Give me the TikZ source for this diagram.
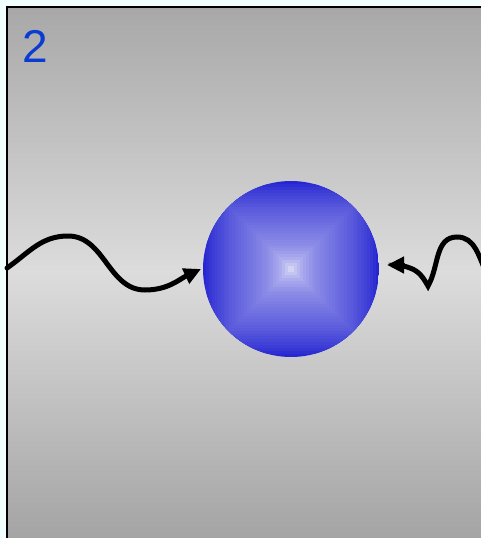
\documentclass[tikz,border=0pt]{standalone}
\usepackage{fontspec}
\setmainfont{Liberation Sans}
\usetikzlibrary{arrows.meta, calc}
\definecolor{cpaper}{HTML}{F2FFFF}
\definecolor{cgreytop}{HTML}{A8A8A8}
\definecolor{cgreymid}{HTML}{DCDCDC}
\definecolor{cgreybot}{HTML}{A4A4A4}
\definecolor{cballout}{HTML}{1E1ED0}
\definecolor{cballin}{HTML}{DCDCF8}
\definecolor{clabel}{HTML}{0A3CD2}
\tikzset{
  every picture/.style={x=1pt, y=-1pt},
  frame/.style={draw=black, line width=2pt},
  wave/.style={line width=5pt, line cap=round, -{Triangle[length=17pt, width=16pt]}},
  panel/.style={font=\fontsize{46}{46}\selectfont, text=clabel, inner sep=0pt},
}
\begin{document}
\begin{tikzpicture}
  \useasboundingbox (0,0) rectangle (481,538);
  \fill[cpaper] (0,0) rectangle (481,538);
  % grey panel
  \shade[top color=cgreytop, bottom color=cgreybot, middle color=cgreymid] (7,7) rectangle (481,538);
  \draw[frame] (7,538) -- (7,7) -- (481,7);
  \node[panel, anchor=base west] (num) at (22,62) {2};
  % ball with square bands
  \node[circle, minimum size=176pt, inner sep=0pt] (ball) at (291,269) {};
  \begin{scope}
    \clip (ball.center) circle (88);
    \foreach \k in {0,...,29} {
      \pgfmathsetmacro\s{88*(1-\k/30)}
      \pgfmathsetmacro\f{100*(0.7*((\k+0.5)/30)^0.7+0.3*((\k+0.5)/30)^8)}
      \fill[cballin!\f!cballout] ($(ball.center)+(-\s,-\s)$) rectangle ($(ball.center)+(\s,\s)$);
    }
  \end{scope}
  % incoming waves
  \coordinate (lstart) at (7,268);
  \coordinate (rstart) at (486,272);
  \coordinate (ltip) at (201,269);
  \coordinate (rtip) at (387,265);
  \draw[wave] (lstart) to[out=35, in=180] (68,236) to[out=0, in=180] (145,290) to[out=0, in=-155] (ltip);
  \draw[wave] (rstart) to[out=115, in=0] (457,237) to[out=180, in=60] (428,286) to[out=120, in=-20] (410,268) to[out=160, in=0] (rtip);
\end{tikzpicture}
\end{document}
